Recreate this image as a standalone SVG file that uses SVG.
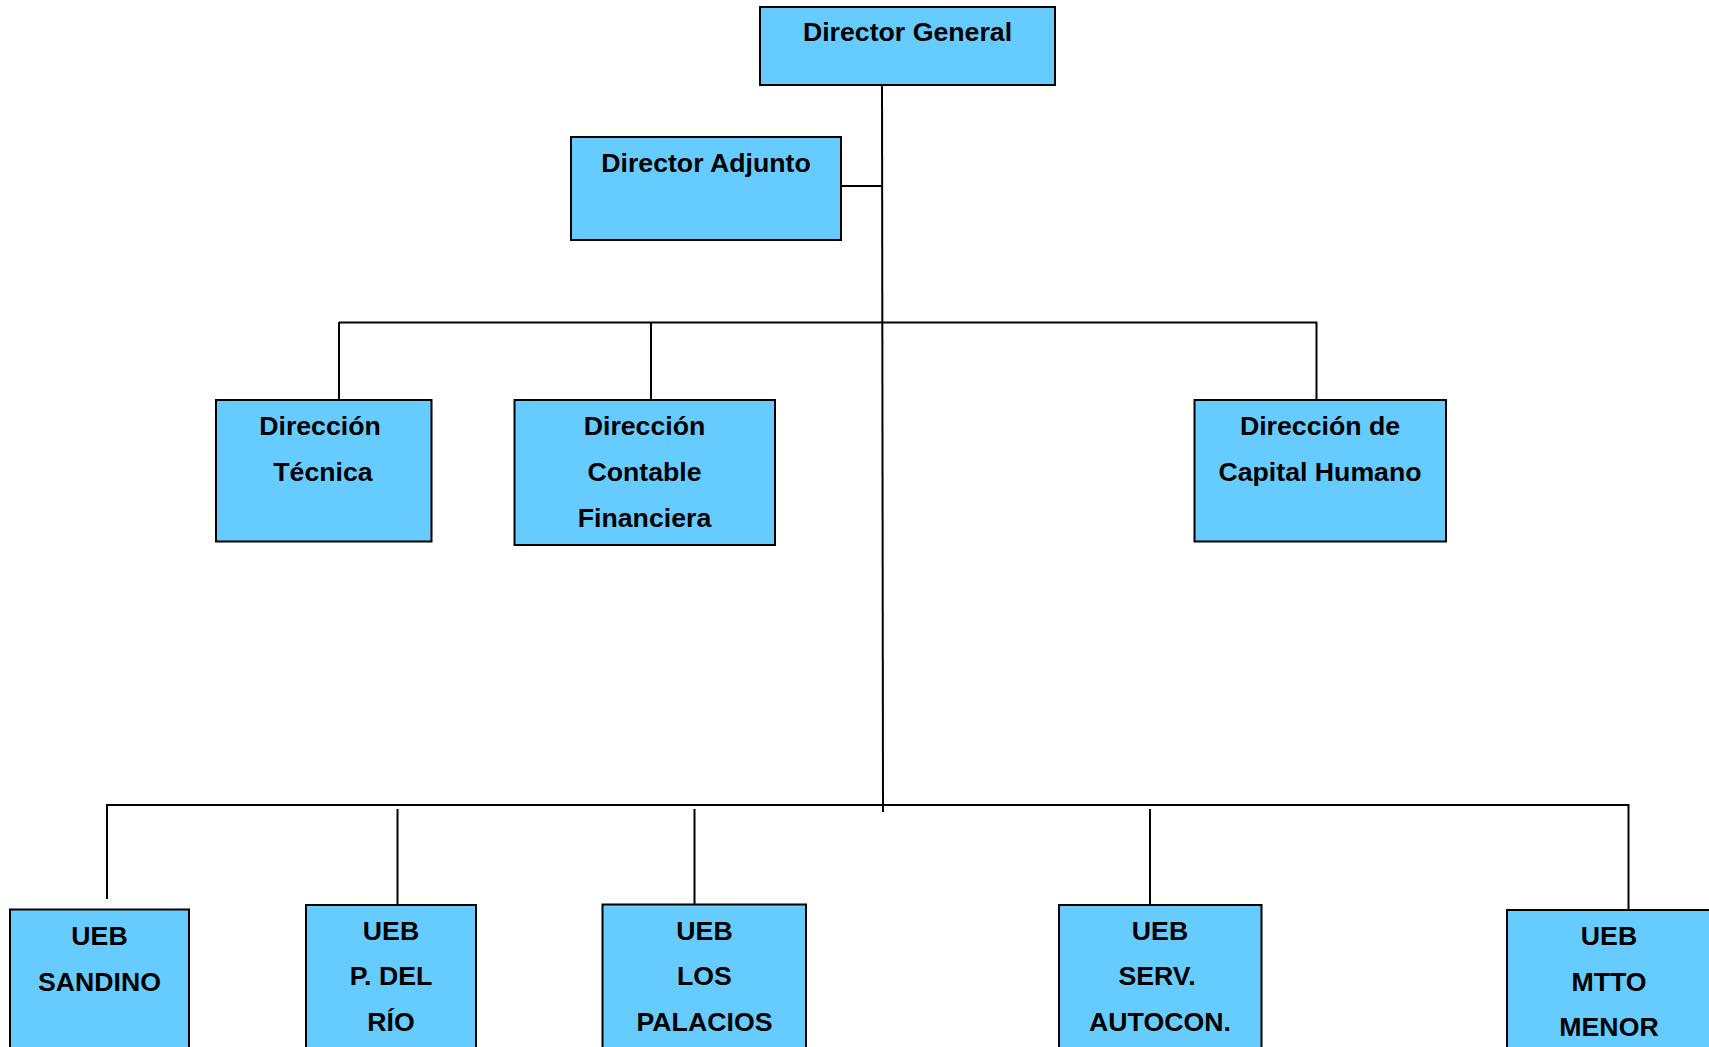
<svg xmlns="http://www.w3.org/2000/svg" width="1709" height="1047" viewBox="0 0 1709 1047">
<style>
.box{fill:#66CCFF;stroke:#000;stroke-width:2}
.lbl{font-family:"Liberation Sans",Arial,sans-serif;font-weight:bold;font-size:26.7px;fill:#000;text-anchor:middle}
.con{stroke:#000;stroke-width:2;fill:none}
</style>
<rect width="1709" height="1047" fill="#fff"/>
<g id="connectors">
<line class="con" x1="882" y1="85" x2="883" y2="812"/>
<line class="con" x1="841" y1="186" x2="882" y2="186"/>
<line class="con" x1="339" y1="322.5" x2="1317" y2="322.5"/>
<line class="con" x1="339" y1="322" x2="339" y2="400"/>
<line class="con" x1="651" y1="322" x2="651" y2="400"/>
<line class="con" x1="1316.5" y1="322" x2="1316.5" y2="400"/>
<line class="con" x1="107" y1="805" x2="1629" y2="805"/>
<line class="con" x1="107" y1="804" x2="107" y2="899"/>
<line class="con" x1="397.5" y1="809" x2="397.5" y2="913"/>
<line class="con" x1="694.5" y1="809" x2="694.5" y2="913"/>
<line class="con" x1="1150" y1="809" x2="1150" y2="913"/>
<line class="con" x1="1628.5" y1="804" x2="1628.5" y2="910"/>
</g>
<g id="director-general">
<rect class="box" x="760" y="7" width="295" height="78"/>
<text class="lbl" x="907.5" y="41">Director General</text>
</g>
<g id="director-adjunto">
<rect class="box" x="571" y="137" width="270" height="103"/>
<text class="lbl" x="706" y="172">Director Adjunto</text>
</g>
<g id="direccion-tecnica">
<rect class="box" x="216" y="400" width="215.5" height="141.5"/>
<text class="lbl" x="320" y="435">Dirección</text>
<text class="lbl" x="323" y="481">Técnica</text>
</g>
<g id="direccion-contable">
<rect class="box" x="514.5" y="400" width="260.5" height="145"/>
<text class="lbl" x="644.5" y="435">Dirección</text>
<text class="lbl" x="644.5" y="481">Contable</text>
<text class="lbl" x="644.5" y="526.5">Financiera</text>
</g>
<g id="direccion-capital-humano">
<rect class="box" x="1194.5" y="400" width="251.5" height="141.5"/>
<text class="lbl" x="1320" y="435">Dirección de</text>
<text class="lbl" x="1320" y="481">Capital Humano</text>
</g>
<g id="ueb-sandino">
<rect class="box" x="10" y="909.5" width="179" height="160"/>
<text class="lbl" x="99.5" y="944.5">UEB</text>
<text class="lbl" x="99.5" y="990.5">SANDINO</text>
</g>
<g id="ueb-pdelrio">
<rect class="box" x="306" y="905" width="170" height="165"/>
<text class="lbl" x="391" y="939.5">UEB</text>
<text class="lbl" x="391" y="985">P. DEL</text>
<text class="lbl" x="391" y="1030.5">RÍO</text>
</g>
<g id="ueb-lospalacios">
<rect class="box" x="602.5" y="904.5" width="203.5" height="165"/>
<text class="lbl" x="704.5" y="939.5">UEB</text>
<text class="lbl" x="704.5" y="985">LOS</text>
<text class="lbl" x="704.5" y="1030.5">PALACIOS</text>
</g>
<g id="ueb-servautocon">
<rect class="box" x="1059" y="905" width="202.5" height="165"/>
<text class="lbl" x="1160" y="939.5">UEB</text>
<text class="lbl" x="1157" y="985">SERV.</text>
<text class="lbl" x="1160" y="1030.5">AUTOCON.</text>
</g>
<g id="ueb-mttomenor">
<rect class="box" x="1507" y="910" width="205" height="160"/>
<text class="lbl" x="1609" y="945">UEB</text>
<text class="lbl" x="1609" y="990.5">MTTO</text>
<text class="lbl" x="1609" y="1036">MENOR</text>
</g>
</svg>
